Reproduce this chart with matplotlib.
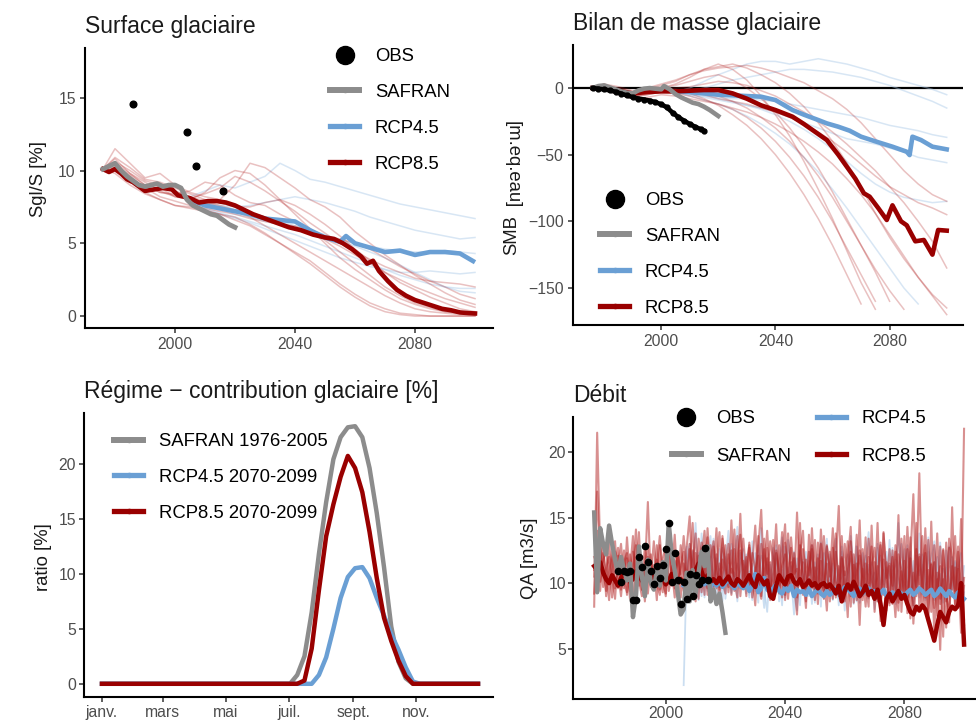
import numpy as np
import matplotlib
matplotlib.use('Agg')
import matplotlib.pyplot as plt
from matplotlib.lines import Line2D

plt.rcParams['font.family'] = ['Liberation Sans', 'DejaVu Sans']

nan = np.nan
W, H = 976, 722

C_SAF = '#8c8c8c'
C_45 = '#6a9fd4'
C_85 = '#990000'
C_45_THIN = '#a9c9e8'
C_85_THIN = '#b22222'

# ---------------- Surface glaciaire ----------------
sg_obs_years = [1986, 2004, 2007, 2016]
sg_obs = [14.57, 12.67, 10.29, 8.59]

sg_saf_years = [1976, 1978, 1980, 1982, 1984, 1986, 1988, 1990, 1992, 1994, 1996, 1998,
                2000, 2002, 2004, 2006, 2008, 2010, 2012, 2014, 2016, 2018, 2020]
sg_saf = [10.1, 10.3, 10.5, 10.0, 9.6, 9.3, 9.0, 8.9, 9.0, 9.1, 8.9, 9.0,
          9.0, 8.8, 8.0, 7.6, 7.4, 7.2, 7.0, 6.9, 6.6, 6.3, 6.1]

sg_85_years = [1976, 1978, 1980, 1982, 1984, 1986, 1988, 1990, 1993, 1996, 1999, 2001, 2003,
               2005, 2008, 2011, 2014, 2017, 2020, 2023, 2026, 2030, 2034, 2038, 2042, 2046,
               2050, 2053, 2056, 2059, 2062, 2064, 2066, 2068, 2071, 2074, 2077, 2080, 2083,
               2086, 2089, 2092, 2095, 2098, 2100]
sg_85 = [10.1, 9.9, 10.1, 9.8, 9.4, 9.2, 8.9, 8.6, 8.7, 8.8, 8.7, 8.3, 8.2,
         8.1, 7.8, 7.9, 7.9, 7.8, 7.6, 7.3, 7.0, 6.7, 6.4, 6.1, 5.9, 5.6,
         5.4, 5.3, 5.0, 4.6, 4.1, 3.6, 3.8, 3.1, 2.4, 1.8, 1.4, 1.1, 0.9,
         0.7, 0.5, 0.4, 0.25, 0.2, 0.18]

sg_45_years = [2006, 2010, 2015, 2020, 2025, 2030, 2035, 2040, 2045, 2050, 2055, 2057,
               2060, 2065, 2070, 2075, 2080, 2085, 2090, 2095, 2100]
sg_45 = [7.9, 7.6, 7.4, 7.2, 7.0, 6.7, 6.6, 6.5, 5.9, 5.4, 5.1, 5.5,
         5.0, 4.7, 4.4, 4.5, 4.2, 4.4, 4.4, 4.3, 3.7]

grid5 = [1976, 1980, 1985, 1990, 1995, 2000, 2005, 2010, 2015, 2020, 2025, 2030, 2035,
         2040, 2045, 2050, 2055, 2060, 2065, 2070, 2075, 2080, 2085, 2090, 2095, 2100]
grid5_rcp = grid5[6:]

sg_85_members = [
    [10.1, 11.5, 10.5, 9.5, 9.8, 9.0, 8.5, 8.2, 8.0, 9.0, 10.5, 10.2, 9.5, 8.8, 8.0, 7.5, 6.8, 5.8, 5.0, 4.2, 3.5, 2.8, 2.2, 1.6, 1.1, 0.8],
    [10.1, 10.8, 9.8, 9.2, 8.6, 8.2, 8.0, 8.5, 9.5, 10.0, 9.8, 9.0, 8.0, 7.0, 6.0, 5.0, 4.0, 3.2, 2.5, 1.8, 1.2, 0.8, 0.5, 0.3, 0.2, 0.1],
    [10.1, 10.2, 9.5, 8.5, 8.0, 7.6, 7.4, 7.2, 7.0, 6.6, 6.2, 5.6, 5.0, 4.4, 3.8, 3.0, 2.2, 1.5, 0.9, 0.5, 0.2, 0.1, 0, 0, 0, 0],
    [10.1, 10.5, 9.8, 9.0, 8.5, 8.3, 8.0, 7.8, 7.5, 7.2, 6.8, 6.2, 5.6, 5.0, 4.4, 3.8, 3.2, 2.6, 2.0, 1.4, 0.9, 0.5, 0.3, 0.2, 0.1, 0.1],
    [10.1, 10.0, 9.2, 8.8, 8.2, 7.9, 7.6, 7.4, 7.2, 7.0, 6.7, 6.5, 6.3, 6.2, 5.8, 5.3, 4.8, 4.2, 3.6, 3.0, 2.5, 2.0, 1.6, 1.2, 0.9, 0.6],
    [10.1, 10.4, 9.6, 8.6, 8.8, 8.2, 8.1, 8.4, 8.8, 9.6, 9.2, 8.6, 7.9, 7.2, 6.4, 5.7, 5.0, 4.4, 3.9, 3.4, 3.0, 2.6, 2.4, 2.3, 2.2, 2.0],
    [10.1, 9.8, 9.0, 8.4, 8.0, 7.6, 7.5, 7.3, 7.0, 6.8, 6.3, 5.7, 5.0, 4.3, 3.6, 2.8, 2.0, 1.3, 0.7, 0.3, 0.1, 0, 0, 0, 0, 0],
    [10.1, 10.6, 10.0, 9.3, 9.0, 8.6, 8.2, 7.9, 7.6, 7.3, 7.0, 6.6, 6.4, 6.0, 5.8, 5.5, 5.3, 5.0, 4.6, 4.0, 3.4, 2.9, 2.4, 2.0, 1.5, 1.2],
    [10.1, 10.3, 9.7, 9.0, 8.5, 8.4, 8.6, 9.2, 9.0, 8.3, 7.8, 7.6, 7.0, 6.5, 6.0, 5.2, 4.4, 3.6, 2.8, 2.0, 1.4, 0.9, 0.6, 0.3, 0.2, 0.1],
    [10.1, 10.9, 10.2, 9.4, 9.2, 8.8, 8.4, 8.0, 7.8, 7.5, 7.5, 7.8, 8.0, 7.6, 7.0, 6.3, 5.5, 4.6, 3.8, 3.0, 2.3, 1.8, 1.3, 0.9, 0.5, 0.3],
]
sg_45_members = [
    [8.2, 8.6, 9.0, 8.8, 9.2, 9.6, 10.5, 10.0, 9.4, 9.2, 8.9, 8.6, 8.3, 8.0, 7.7, 7.5, 7.3, 7.1, 6.9, 6.7],
    [8.0, 7.8, 7.6, 7.5, 7.6, 7.8, 8.0, 8.2, 8.0, 7.8, 7.5, 7.2, 6.8, 6.5, 6.2, 5.9, 5.7, 5.5, 5.3, 5.4],
    [7.8, 7.5, 7.3, 7.0, 6.8, 6.5, 6.3, 6.0, 5.7, 5.4, 5.2, 5.0, 4.8, 4.6, 4.5, 4.4, 4.4, 4.5, 4.4, 4.3],
    [7.6, 7.3, 7.0, 6.7, 6.4, 6.0, 5.6, 5.2, 4.8, 4.4, 4.0, 3.7, 3.4, 3.2, 3.0, 3.0, 3.1, 3.0, 2.9, 3.0],
    [7.7, 7.4, 7.1, 6.8, 6.5, 6.2, 5.9, 5.6, 5.2, 4.8, 4.4, 4.0, 3.6, 3.2, 2.8, 2.5, 2.2, 2.0, 1.9, 1.9],
    [7.9, 7.6, 7.4, 7.2, 7.0, 6.8, 6.5, 6.2, 5.9, 5.6, 5.2, 4.8, 4.4, 4.0, 3.5, 3.0, 2.5, 2.0, 1.7, 1.6],
]

# ---------------- Bilan de masse ----------------
smb_obs_years = [1976, 1978, 1980, 1982, 1984, 1986, 1988, 1990, 1992, 1994, 1996, 1998,
                 2000, 2002, 2004, 2006, 2008, 2010, 2012, 2014, 2015]
smb_obs = [0, -0.5, -1.0, -1.8, -2.8, -4.2, -5.5, -6.8, -7.9, -8.6, -9.4, -10.6,
           -12.2, -14.5, -18.5, -21.8, -24.5, -27.0, -29.2, -31.0, -32.0]

smb_saf_years = [1976, 1978, 1980, 1982, 1984, 1986, 1988, 1990, 1992, 1994, 1996, 1998,
                 2000, 2001, 2003, 2005, 2007, 2009, 2011, 2013, 2015, 2017, 2019, 2020]
smb_saf = [0, 1.5, 2.0, 0.5, -1.0, -2.5, -3.5, -4.0, -1.8, -0.5, 0.0, -0.5,
           -1.0, 1.5, -1.0, -4.5, -7.0, -9.0, -11.0, -12.0, -14.0, -16.5, -19.5, -21.0]

smb_85_years = [1976, 1980, 1985, 1990, 1995, 2000, 2005, 2010, 2015, 2020, 2025, 2030, 2035,
                2040, 2046, 2050, 2054, 2058, 2062, 2065, 2068, 2071, 2073, 2076, 2079, 2081,
                2084, 2086, 2089, 2092, 2095, 2097, 2100]
smb_85 = [0, -0.5, -2, -4, -3, -2.5, -2.5, -2, -1.5, -1.5, -4, -8, -13,
          -16.5, -21.5, -27, -33, -39, -50, -59, -68, -79, -81.5, -90, -99, -88,
          -100, -103, -115, -114, -125, -106.5, -107]

smb_45_years = [2006, 2010, 2015, 2020, 2025, 2030, 2035, 2040, 2046, 2050, 2055, 2058,
                2062, 2066, 2070, 2075, 2081, 2086, 2087, 2088, 2091, 2095, 2100]
smb_45 = [-2.5, -3, -4, -5, -5.5, -6, -6.5, -9, -16.5, -20, -24, -26.5,
          -29, -32, -36.5, -40, -44, -47.8, -50.3, -36.5, -39, -44, -46]

smb_85_members = [
    [0, 3, -2, -5, -2, 0, 3, 8, 14, 18, 14, 6, -6, -20, -36, -55, -76, -98, -122, -146, -166, nan, nan, nan, nan, nan],
    [0, -1, -4, -7, -5, -3, -2, -4, -8, -13, -20, -28, -38, -50, -64, -80, -98, -118, -140, -162, nan, nan, nan, nan, nan, nan],
    [0, 2, -1, -4, -3, 0, 2, 5, 8, 10, 6, 0, -8, -18, -30, -44, -60, -78, -98, -118, -138, -160, nan, nan, nan, nan],
    [0, 1, -3, -6, -4, -2, -1, -2, -4, -6, -10, -15, -22, -30, -40, -52, -66, -82, -100, -118, -136, -152, -166, nan, nan, nan],
    [0, -1, -5, -8, -7, -5, -6, -8, -10, -12, -15, -18, -22, -27, -33, -40, -48, -57, -68, -80, -94, -110, -126, -142, -156, -170],
    [0, 2, 0, -3, -1, 2, 5, 10, 14, 16, 18, 15, 10, 4, -4, -14, -26, -40, -56, -74, -94, -112, -128, -142, -155, -165],
    [0, 1, -2, -5, -3, -1, 0, 1, 3, 5, 4, 2, -2, -6, -12, -18, -25, -33, -42, -52, -62, -74, -86, -100, -115, -135],
    [0, -2, -4, -6, -5, -3, -2, -3, -5, -8, -10, -12, -15, -18, -22, -27, -33, -40, -48, -57, -66, -74, -80, -86, -90, -95],
    [0, 3, 1, -2, 0, 3, 6, 10, 13, 15, 16, 17, 15, 12, 8, 4, -2, -8, -16, -26, -38, -50, -62, -72, -80, -85],
    [0, 0, -3, -6, -4, -3, -4, -6, -9, -12, -16, -22, -30, -40, -52, -66, -82, -100, -120, -140, -160, nan, nan, nan, nan, nan],
]
smb_45_members = [
    [-3, 0, 5, 10, 14, 18, 20, 20, 18, 20, 22, 20, 18, 15, 12, 8, 5, 2, -1, -5],
    [-3, -2, 0, 3, 6, 8, 10, 12, 14, 14, 13, 12, 10, 8, 5, 2, -2, -6, -10, -15],
    [-3, -5, -6, -7, -8, -8, -9, -10, -12, -14, -16, -18, -20, -22, -25, -28, -30, -32, -35, -37],
    [-3, -5, -7, -9, -11, -13, -15, -18, -22, -26, -30, -34, -38, -40, -42, -45, -48, -52, -54, -56],
    [-3, -4, -6, -8, -10, -13, -16, -20, -25, -31, -38, -46, -55, -64, -72, -78, -82, -84, -86, -85],
    [-3, -6, -9, -12, -16, -21, -27, -34, -42, -52, -63, -76, -90, -105, -120, -135, -150, -162, nan, nan],
]

# ---------------- Regime ----------------
reg_days = [1, 175, 183, 190, 197, 204, 211, 218, 225, 232, 239, 246, 253, 260, 267,
            274, 281, 288, 295, 302, 309, 365]
reg_saf = [0, 0, 0, 0.8, 2.5, 6.5, 11.8, 16.5, 20.4, 22.4, 23.3, 23.4, 22.4, 19.6, 15.5,
           10.6, 5.2, 2.0, 0.5, 0, 0, 0]
reg_45 = [0, 0, 0, 0, 0, 0, 0.8, 2.4, 5.0, 7.8, 9.7, 10.5, 10.6, 9.6, 7.8,
          6.2, 4.5, 3.1, 1.5, 0.2, 0, 0]
reg_85 = [0, 0, 0, 0, 0.3, 3.2, 8.5, 13.4, 16.3, 18.8, 20.7, 19.6, 17.4, 13.8, 9.6,
          6.0, 3.9, 2.1, 0.7, 0, 0, 0]
month_days = [1, 60, 121, 182, 244, 305]
month_labels = ['janv.', 'mars', 'mai', 'juil.', 'sept.', 'nov.']

# ---------------- Debit ----------------
qa_obs_years = list(range(1984, 2015))
qa_obs = [10.92, 10.10, 10.92, 10.84, 10.92, 8.73, 8.73, 12.03, 11.27, 12.84, 11.60,
          10.94, 9.93, 11.32, 10.41, 11.37, 12.64, 14.60, 10.10, 12.34, 10.20, 8.43,
          10.10, 8.76, 10.69, 9.01, 10.64, 9.90, 10.20, 12.72, 10.20]

qa_saf = [15.4, 9.3, 14.2, 13.0, 12.2, 14.4, 13.0, 11.8, 10.8, 12.0,
          11.0, 10.2, 11.5, 7.4, 9.0, 12.8, 10.5, 9.0, 11.8, 10.0,
          9.5, 11.0, 9.8, 11.6, 10.2, 14.6, 12.2, 11.0, 9.3, 7.6,
          8.0, 10.8, 8.6, 11.0, 9.2, 10.8, 12.4, 11.3, 12.8, 8.6,
          9.5, 8.4, 9.2, 7.8, 6.2]

qa_85 = [11.3, 11.0, 11.6, 10.8, 10.3, 10.0, 10.6, 10.2, 9.8, 10.4,
         10.8, 10.5, 10.1, 10.3, 10.9, 10.6, 10.2, 10.0, 10.5, 10.8,
         10.4, 10.1, 10.6, 10.3, 9.9, 10.2, 10.7, 10.4, 10.0, 10.3,
         10.0, 10.4, 9.8, 10.2, 11.0, 11.5, 10.9, 10.2, 10.6, 10.1,
         10.3, 10.0, 10.4, 9.9, 10.2, 10.5, 10.0, 9.8, 10.3, 10.1,
         9.8, 10.2, 10.6, 10.0, 9.7, 10.6, 10.3, 9.9, 10.2, 9.0,
         8.8, 9.8, 10.6, 10.2, 9.9, 10.5, 10.6, 10.1, 9.9, 10.3,
         9.7, 9.9, 10.2, 9.8, 10.0, 9.6, 9.9, 10.0, 9.7, 9.9,
         9.6, 9.2, 9.8, 8.6, 9.4, 9.9, 9.5, 10.1, 9.6, 9.0,
         9.3, 9.8, 9.1, 9.4, 8.8, 9.5, 8.4, 6.8, 8.8, 9.2,
         8.6, 9.0, 9.4, 8.8, 9.1, 8.4, 7.8, 7.6, 8.2, 7.9,
         8.3, 8.0, 7.2, 6.4, 5.6, 6.8, 7.8, 7.4, 7.0, 7.8,
         8.2, 8.0, 8.3, 10.0, 5.3]

qa_45 = [9.8, 10.2, 9.6, 10.0, 10.4, 10.8, 10.3, 9.9, 10.2, 9.7,
         10.1, 9.8, 10.2, 9.7, 10.0, 10.3, 9.9, 9.6, 10.1, 9.8,
         9.6, 10.0, 9.4, 9.8, 10.7, 9.3, 9.6, 10.4, 9.5, 9.3,
         9.6, 9.9, 9.4, 9.2, 9.7, 9.4, 9.8, 9.0, 9.5, 9.3,
         9.4, 9.1, 9.6, 9.0, 9.3, 9.5, 9.2, 9.0, 9.4, 9.1,
         9.3, 9.6, 9.2, 9.4, 9.7, 9.5, 9.3, 9.0, 9.4, 9.6,
         9.2, 9.5, 9.6, 9.3, 9.4, 9.1, 9.2, 9.5, 9.0, 9.1,
         9.3, 9.0, 9.4, 9.2, 9.0, 9.3, 9.5, 9.1, 9.3, 9.6,
         9.4, 9.1, 9.3, 9.5, 9.0, 9.2, 9.6, 9.3, 9.0, 9.4,
         9.1, 8.9, 9.3, 9.0, 8.8]

qa_85_members = [
    [8.2, 21.5, 12.5, 11.0, 9.4, 13.2, 10.5, 8.8, 12.1, 10.4,
     9.6, 13.5, 10.2, 8.4, 11.8, 12.6, 9.5, 10.8, 16.2, 9.9,
     11.4, 8.7, 12.9, 10.1, 9.2, 13.8, 11.1, 8.9, 12.3, 10.6,
     9.4, 12.7, 15.1, 10.3, 8.6, 13.4, 11.7, 9.1, 14.2, 10.8,
     9.5, 12.2, 8.4, 13.6, 11.0, 9.7, 14.8, 10.2, 8.9, 12.5,
     11.3, 9.0, 13.1, 10.6, 8.3, 12.8, 15.6, 9.8, 11.9, 8.7,
     13.3, 10.4, 9.2, 12.1, 14.5, 8.8, 11.6, 10.0, 7.6, 12.9,
     10.5, 8.1, 13.7, 9.6, 11.2, 8.4, 14.1, 10.7, 7.9, 12.4,
     9.3, 11.8, 15.9, 8.6, 10.9, 7.4, 13.2, 9.7, 11.5, 6.8,
     12.6, 10.1, 8.2, 14.4, 9.0, 11.3, 7.1, 13.8, 10.4, 8.5,
     12.0, 9.4, 15.2, 7.8, 11.7, 8.9, 13.5, 6.9, 10.6, 18.4,
     9.2, 12.3, 7.3, 14.7, 8.1, 10.8, 4.9, 12.5, 9.6, 7.0,
     15.8, 8.4, 11.1, 6.2, 9.8],
    [10.5, 17.0, 11.2, 13.1, 9.0, 10.8, 12.4, 9.6, 11.5, 13.0,
     10.1, 9.3, 12.2, 10.7, 14.1, 9.8, 11.3, 8.6, 12.0, 10.4,
     13.2, 10.0, 9.1, 11.9, 12.8, 9.4, 10.6, 13.7, 9.9, 11.1,
     12.4, 9.7, 10.9, 14.6, 10.2, 12.1, 9.3, 11.4, 13.5, 9.8,
     10.7, 14.2, 9.5, 11.8, 10.3, 13.0, 9.1, 12.6, 10.0, 15.3,
     9.6, 11.4, 12.9, 8.9, 10.8, 13.6, 9.7, 11.2, 14.0, 10.3,
     9.0, 12.3, 10.6, 13.9, 8.7, 11.0, 12.7, 9.5, 15.4, 10.2,
     11.6, 8.6, 12.4, 10.1, 13.3, 9.2, 11.7, 8.8, 12.9, 10.5,
     14.2, 8.9, 11.3, 9.6, 13.0, 10.4, 8.2, 12.2, 9.9, 14.8,
     8.7, 11.5, 10.0, 12.8, 7.8, 10.9, 13.1, 9.1, 11.6, 8.3,
     12.5, 9.8, 7.9, 13.4, 10.2, 8.6, 11.9, 9.3, 14.6, 8.0,
     10.7, 12.9, 7.6, 11.4, 9.0, 13.8, 8.4, 10.3, 6.6, 12.7,
     9.5, 11.2, 8.1, 14.9, 7.2],
    [12.0, 11.5, 9.4, 12.3, 10.9, 8.7, 11.8, 13.2, 9.6, 10.2,
     12.5, 9.1, 10.8, 13.6, 9.7, 11.4, 10.0, 12.8, 9.2, 11.7,
     10.3, 12.9, 9.5, 11.0, 10.7, 13.5, 9.8, 10.4, 12.1, 8.9,
     11.5, 10.6, 13.0, 9.6, 12.3, 10.1, 11.9, 14.0, 10.5, 9.3,
     12.8, 10.9, 9.7, 13.4, 11.2, 10.0, 12.5, 9.4, 11.6, 13.7,
     10.2, 12.0, 9.3, 11.5, 14.4, 10.1, 8.8, 12.6, 10.7, 13.2,
     11.8, 9.5, 12.9, 10.3, 9.1, 13.8, 10.6, 11.9, 8.9, 12.2,
     14.0, 9.6, 11.0, 12.6, 8.7, 13.1, 10.2, 9.4, 12.8, 11.1,
     8.8, 12.4, 10.0, 13.6, 9.2, 11.7, 14.3, 8.5, 10.8, 12.1,
     9.4, 13.5, 8.9, 11.2, 12.7, 9.8, 8.1, 13.9, 10.4, 11.5,
     8.4, 12.9, 10.6, 9.1, 13.6, 7.7, 11.8, 16.8, 9.0, 12.2,
     10.1, 8.0, 13.3, 9.4, 11.6, 7.5, 12.8, 10.0, 8.6, 13.4,
     11.9, 8.2, 12.4, 9.7, 6.8],
    [9.2, 14.0, 10.1, 11.7, 12.6, 9.9, 10.7, 12.4, 10.8, 9.0,
     11.6, 12.3, 9.4, 10.5, 12.9, 10.2, 9.0, 11.4, 12.6, 9.7,
     10.9, 11.8, 10.4, 9.3, 12.7, 10.0, 11.3, 9.6, 12.4, 10.7,
     13.6, 11.0, 9.9, 12.5, 10.4, 8.8, 13.1, 10.7, 9.6, 12.9,
     9.8, 11.3, 13.9, 10.1, 9.2, 12.2, 10.8, 14.1, 9.9, 11.0,
     13.4, 10.5, 9.6, 12.3, 11.1, 9.4, 13.0, 10.2, 12.7, 9.2,
     10.8, 14.5, 9.7, 11.3, 12.2, 9.3, 13.5, 10.7, 11.1, 9.8,
     12.6, 10.9, 9.5, 14.2, 10.0, 11.9, 9.1, 13.6, 10.3, 9.4,
     11.7, 13.8, 9.0, 12.0, 8.6, 10.7, 12.4, 9.5, 13.7, 8.9,
     11.1, 9.6, 13.4, 10.2, 9.3, 14.6, 8.8, 11.8, 9.7, 12.6,
     10.3, 7.4, 12.2, 11.0, 8.7, 14.3, 10.0, 8.3, 12.6, 9.9,
     13.6, 8.9, 11.0, 7.8, 12.9, 9.6, 11.3, 5.9, 13.1, 9.2,
     10.5, 13.6, 8.7, 8.0, 21.8],
    [11.0, 12.2, 13.4, 9.7, 11.2, 12.0, 8.9, 11.4, 12.7, 9.5,
     10.7, 11.9, 8.8, 12.4, 10.3, 13.9, 9.5, 11.0, 10.1, 12.2,
     9.6, 11.3, 13.6, 10.5, 9.0, 12.4, 10.2, 11.7, 9.3, 12.9,
     10.8, 9.5, 12.6, 11.2, 13.8, 9.9, 10.6, 12.4, 9.1, 11.8,
     13.2, 9.6, 11.5, 10.3, 12.9, 9.3, 11.1, 10.5, 13.6, 9.0,
     11.7, 10.2, 12.7, 9.8, 10.9, 12.1, 9.0, 13.4, 10.1, 11.6,
     9.3, 12.5, 11.0, 8.9, 13.1, 10.8, 9.6, 12.3, 10.4, 14.6,
     9.1, 11.8, 10.6, 12.9, 9.4, 10.3, 13.0, 9.7, 11.5, 8.6,
     12.7, 10.1, 9.2, 11.9, 10.6, 13.2, 9.0, 11.4, 8.7, 12.5,
     10.8, 8.2, 12.0, 9.5, 11.6, 8.6, 12.9, 10.2, 7.9, 11.3,
     9.8, 12.4, 8.5, 10.9, 9.4, 12.6, 7.3, 10.8, 9.7, 12.0,
     8.1, 14.2, 9.5, 11.5, 6.4, 10.3, 8.8, 12.6, 9.2, 7.6,
     11.3, 9.4, 12.8, 8.0, 10.4],
]
qa_45_members = [
    [2.2, 11.0, 9.3, 12.4, 10.1, 8.7, 13.8, 10.5, 9.4, 12.0,
     10.7, 8.9, 12.6, 9.8, 11.5, 14.0, 9.2, 10.8, 8.6, 12.3,
     10.0, 11.7, 9.1, 13.2, 10.4, 8.5, 12.1, 9.7, 11.4, 8.8,
     12.7, 9.9, 10.6, 13.5, 8.9, 11.2, 9.6, 12.4, 10.1, 8.3,
     11.8, 10.2, 9.0, 12.9, 9.4, 11.1, 8.2, 12.3, 9.8, 10.6,
     8.7, 13.4, 9.3, 11.0, 7.9, 12.2, 10.4, 9.1, 12.8, 8.5,
     10.9, 12.1, 8.8, 11.6, 9.5, 13.0, 8.6, 10.7, 12.4, 9.2,
     11.3, 8.4, 14.6, 9.7, 10.5, 12.9, 8.9, 11.7, 9.6, 13.8,
     10.3, 8.7, 12.4, 9.9, 11.6, 10.0, 13.1, 9.4, 11.2, 8.8,
     12.0, 9.6, 10.8, 8.4, 9.3],
    [10.5, 12.8, 9.6, 11.3, 14.6, 10.2, 9.0, 12.5, 10.8, 13.6,
     9.4, 11.9, 10.3, 12.7, 8.8, 11.2, 13.0, 9.7, 11.5, 10.0,
     12.6, 9.2, 10.9, 8.7, 12.3, 10.6, 14.2, 9.5, 7.8, 11.4,
     10.1, 12.9, 8.6, 11.0, 9.8, 13.3, 10.4, 7.6, 11.9, 10.2,
     9.3, 12.4, 10.9, 8.4, 11.6, 9.9, 13.1, 8.8, 10.7, 12.2,
     9.6, 11.1, 8.3, 12.8, 10.0, 9.4, 13.6, 11.2, 8.6, 10.9,
     12.3, 9.1, 11.4, 10.6, 8.0, 12.7, 9.9, 11.0, 8.7, 13.3,
     9.5, 11.8, 10.2, 8.9, 12.6, 9.7, 10.9, 8.2, 12.1, 10.6,
     11.4, 9.2, 13.5, 10.3, 8.7, 12.0, 9.8, 11.1, 10.5, 12.8,
     9.1, 11.6, 10.0, 8.6, 11.3],
    [9.8, 11.4, 13.0, 9.2, 10.6, 12.3, 11.0, 8.9, 12.6, 10.1,
     13.4, 9.9, 11.1, 8.6, 12.0, 10.5, 9.3, 11.8, 14.3, 9.6,
     10.8, 12.2, 8.9, 11.5, 9.4, 12.9, 10.3, 8.1, 11.6, 10.7,
     9.2, 11.9, 10.5, 8.3, 12.8, 9.6, 11.3, 10.0, 7.9, 12.5,
     10.4, 9.1, 11.7, 10.8, 8.5, 12.2, 9.7, 11.0, 13.4, 9.0,
     11.5, 10.1, 8.8, 12.4, 9.3, 10.7, 11.9, 8.4, 12.8, 10.3,
     9.0, 11.6, 13.9, 9.5, 10.8, 8.6, 12.1, 9.9, 11.2, 10.4,
     12.7, 9.3, 11.0, 13.0, 8.8, 10.6, 12.4, 9.6, 10.9, 8.9,
     12.2, 10.4, 9.1, 11.8, 13.2, 9.5, 10.7, 8.5, 12.5, 10.2,
     9.4, 11.7, 10.9, 12.3, 8.7],
]

# ---------------------------------------------------------------
fig = plt.figure(figsize=(W / 100, H / 100), dpi=100, facecolor='white')


def px_axes(left, top, right, bottom):
    return fig.add_axes([left / W, 1 - bottom / H, (right - left) / W, (bottom - top) / H])


def style(ax, title, pad=3):
    for s in ['top', 'right']:
        ax.spines[s].set_visible(False)
    for s in ['left', 'bottom']:
        ax.spines[s].set_linewidth(1.5)
        ax.spines[s].set_color('black')
    ax.tick_params(length=3.6, width=1.1, color='#333333', labelsize=11.3,
                   labelcolor='#4d4d4d', pad=pad)
    ax.set_title(title, loc='left', fontsize=16.5, pad=10.8, color='#1a1a1a')


def ylab(text, x, y, rot=90):
    fig.text(x / W, 1 - y / H, text, rotation=rot, ha='center', va='center',
             fontsize=13.3, color='#1a1a1a')


def legend(ax, handles, labels, x, y, ncol=1, spacing=1.02, colsp=1.35):
    ax.legend(handles, labels, loc='upper left', bbox_to_anchor=(x / W, 1 - y / H),
              bbox_transform=fig.transFigure, frameon=False, borderpad=0,
              borderaxespad=0, handlelength=1.57, handletextpad=0.86,
              labelspacing=spacing, fontsize=13.3, ncol=ncol, columnspacing=colsp)


h_obs = Line2D([], [], ls='', marker='o', ms=13, color='black')
h_saf = Line2D([], [], color=C_SAF, lw=4.3, marker='o', ms=3)
h_45 = Line2D([], [], color=C_45, lw=3.8, marker='o', ms=3)
h_85 = Line2D([], [], color=C_85, lw=3.8, marker='o', ms=3)

# --- Surface glaciaire
ax = px_axes(85, 48, 493, 328)
for m in sg_45_members:
    ax.plot(grid5_rcp, m, color=C_45_THIN, lw=1.1, alpha=0.45)
for m in sg_85_members:
    ax.plot(grid5, m, color=C_85_THIN, lw=1.1, alpha=0.28)
ax.plot(sg_45_years, sg_45, color=C_45, lw=3.3, solid_capstyle='butt')
ax.plot(sg_85_years, sg_85, color=C_85, lw=3.3)
ax.plot(sg_saf_years, sg_saf, color=C_SAF, lw=3.5)
ax.plot(sg_obs_years, sg_obs, ls='', marker='o', ms=4.8, color='black')
ax.set_xlim(1970, 2106)
ax.set_ylim(-0.82, 18.42)
ax.set_xticks([2000, 2040, 2080])
ax.set_yticks([0, 5, 10, 15])
style(ax, 'Surface glaciaire')
ylab('Sgl/S [%]', 38.7, 179)
legend(ax, [h_obs, h_saf, h_45, h_85], ['OBS', 'SAFRAN', 'RCP4.5', 'RCP8.5'], 330, 48)

# --- Bilan de masse glaciaire
ax = px_axes(572.7, 45, 962.7, 325)
for m in smb_45_members:
    ax.plot(grid5_rcp, m, color=C_45_THIN, lw=1.1, alpha=0.45)
for m in smb_85_members:
    ax.plot(grid5, m, color=C_85_THIN, lw=1.1, alpha=0.28)
ax.axhline(0, color='black', lw=1.6, zorder=1.5)
ax.plot(smb_45_years, smb_45, color=C_45, lw=3.3)
ax.plot(smb_85_years, smb_85, color=C_85, lw=3.3)
ax.plot(smb_saf_years, smb_saf, color=C_SAF, lw=3.3)
ax.plot(smb_obs_years, smb_obs, color='black', lw=3.3, marker='o', ms=3.5)
ax.set_xlim(1969, 2105.6)
ax.set_ylim(-177.8, 32.3)
ax.set_xticks([2000, 2040, 2080])
ax.set_yticks([-150, -100, -50, 0])
style(ax, 'Bilan de masse glaciaire')
ylab('SMB', 512, 235)
ylab('[m.eq.eau]', 512, 165, rot=270)
legend(ax, [h_obs, h_saf, h_45, h_85], ['OBS', 'SAFRAN', 'RCP4.5', 'RCP8.5'], 600, 192)

# --- Regime
ax = px_axes(84, 413, 493, 697)
ax.plot(reg_days, reg_saf, color=C_SAF, lw=3.2)
ax.plot(reg_days, reg_45, color=C_45, lw=3.2)
ax.plot(reg_days, reg_85, color=C_85, lw=3.2)
ax.set_xlim(-16.4, 379.5)
ax.set_ylim(-1.2, 24.6)
ax.set_xticks(month_days)
ax.set_xticklabels(month_labels)
ax.set_yticks([0, 5, 10, 15, 20])
style(ax, 'Régime − contribution glaciaire [%]', pad=2)
ylab('ratio [%]', 43, 556.7)
legend(ax, [h_saf, h_45, h_85], ['SAFRAN 1976-2005', 'RCP4.5 2070-2099', 'RCP8.5 2070-2099'],
       114, 433)

# --- Debit
ax = px_axes(572.7, 417, 976, 699)
for m in qa_45_members:
    ax.plot(np.arange(2006, 2006 + len(m)), m, color=C_45_THIN, lw=1.3, alpha=0.6)
for m in qa_85_members:
    ax.plot(np.arange(1976, 1976 + len(m)), m, color=C_85_THIN, lw=1.5, alpha=0.5)
ax.plot(np.arange(2006, 2006 + len(qa_45)), qa_45, color=C_45, lw=3.1)
ax.plot(np.arange(1976, 1976 + len(qa_85)), qa_85, color=C_85, lw=3.2)
ax.plot(np.arange(1976, 1976 + len(qa_saf)), qa_saf, color=C_SAF, lw=3.2)
ax.plot(qa_obs_years, qa_obs, ls='', marker='o', ms=4.5, color='black')
ax.set_xlim(1968.8, 2104)
ax.set_ylim(1.14, 22.7)
ax.set_xticks([2000, 2040, 2080])
ax.set_yticks([5, 10, 15, 20])
style(ax, 'Débit', pad=1.2)
ylab('QA [m3/s]', 530, 558)
legend(ax, [h_obs, h_saf, h_45, h_85], ['OBS', 'SAFRAN', 'RCP4.5', 'RCP8.5'], 671.7, 410,
       ncol=2, spacing=1.13, colsp=1.35)

fig.savefig('out.png', dpi=100, facecolor='white')
